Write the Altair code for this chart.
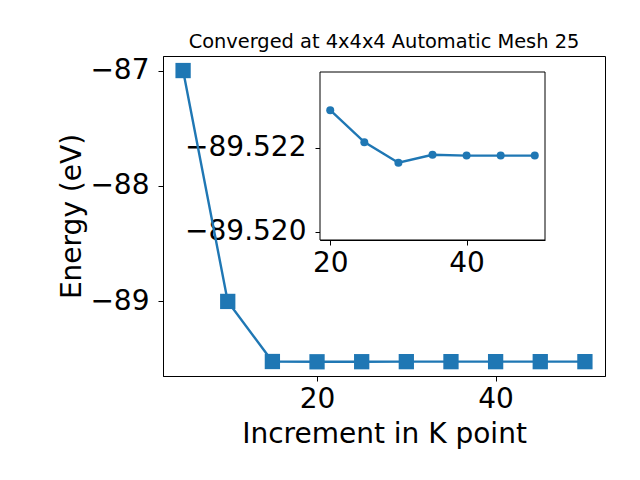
import altair as alt
import pandas as pd

# Main series
k_points = [5, 10, 15, 20, 25, 30, 35, 40, 45, 50]
energies = [-87.0, -89.0, -89.5205, -89.52289, -89.52213, -89.52164,
            -89.52183, -89.52181, -89.52181, -89.52181]

# Inset series
inset_k = [20, 25, 30, 35, 40, 45, 50]
inset_e = [-89.52289, -89.52213, -89.52164, -89.52183, -89.52181, -89.52181, -89.52181]

main_xlim = [2.75, 52.25]
main_ylim = [-89.646, -86.874]
main_xticks = [20, 40]
main_yticks = [-87, -88, -89]

inset_xlim = [18.5, 51.5]
inset_ylim = [-89.5238, -89.5198]   # top -> bottom (inverted axis)
inset_xticks = [20, 40]
inset_yticks = [-89.522, -89.520]

title = "Converged at 4x4x4 Automatic Mesh 25"
xlabel = "Increment in K point"
ylabel = "Energy (eV)"

BLUE = "#1f77b4"
FONT = "DejaVu Sans"
TICK_FS = 28

W, H = 442, 320

main_df = pd.DataFrame({"k": k_points, "e": energies})
inset_df = pd.DataFrame({"k": inset_k, "e": inset_e})
frame_df = pd.DataFrame({"x": [inset_xlim[0]], "x2": [inset_xlim[1]],
                         "y": [inset_ylim[0]], "y2": [inset_ylim[1]]})

main = alt.Chart(main_df).mark_line(
    color=BLUE, strokeWidth=2.4,
    point=alt.OverlayMarkDef(shape="square", size=234, filled=True, color=BLUE, opacity=1),
).encode(
    x=alt.X("k:Q", scale=alt.Scale(domain=main_xlim, nice=False, zero=False),
            axis=alt.Axis(values=main_xticks, orient="bottom", title=xlabel,
                          titleY=66, titleBaseline="alphabetic", labelPadding=4)),
    y=alt.Y("e:Q", scale=alt.Scale(domain=main_ylim, nice=False, zero=False),
            axis=alt.Axis(values=main_yticks, orient="left", title=ylabel, format="d",
                          titleX=-83, titleBaseline="alphabetic", titleAngle=-90,
                          labelPadding=9)),
)

# inset pixel placement within the main plot area
inset_xrange = [157, 382]
inset_yrange = [16, 184]

ix_axis = alt.Axis(values=inset_xticks, orient="bottom", title=None,
                   offset=-(H - inset_yrange[1]), labelPadding=4)
iy_axis = alt.Axis(values=inset_yticks, orient="left", title=None, format=".3f",
                   offset=-inset_xrange[0], labelPadding=9)
ix_scale = alt.Scale(domain=inset_xlim, range=inset_xrange, nice=False, zero=False)
iy_scale = alt.Scale(domain=inset_ylim, range=inset_yrange, nice=False, zero=False)

frame = alt.Chart(frame_df).mark_rect(fill="white", stroke="black", strokeWidth=1).encode(
    x=alt.X("x:Q", scale=ix_scale, axis=ix_axis),
    x2="x2:Q",
    y=alt.Y("y:Q", scale=iy_scale, axis=iy_axis),
    y2="y2:Q",
)
inset_line = alt.Chart(inset_df).mark_line(
    color=BLUE, strokeWidth=2.4,
    point=alt.OverlayMarkDef(shape="circle", size=64, filled=True, color=BLUE, opacity=1),
).encode(
    x=alt.X("k:Q", scale=ix_scale, axis=ix_axis),
    y=alt.Y("e:Q", scale=iy_scale, axis=iy_axis),
)
inset = alt.layer(frame, inset_line)

chart = alt.layer(main, inset).resolve_scale(
    x="independent", y="independent"
).properties(
    width=W, height=H,
    title=alt.TitleParams(title, fontSize=19.4, font=FONT, fontWeight="normal",
                          anchor="middle", frame="group", offset=-11,
                          baseline="alphabetic", color="black"),
    autosize=alt.AutoSizeParams(type="none"),
    padding={"left": 155, "top": 48, "right": 27, "bottom": 96},
).configure_view(
    stroke="black", strokeWidth=1
).configure_axis(
    grid=False, domainColor="black", domainWidth=1, tickColor="black", tickWidth=1,
    tickSize=5, labelFont=FONT, labelFontSize=TICK_FS, labelColor="black",
    titleFont=FONT, titleFontSize=TICK_FS, titleColor="black", titleFontWeight="normal",
    labelFlush=False, labelOverlap=False,
)

chart.save("out.html", embed_options={"renderer": "svg", "actions": False})
